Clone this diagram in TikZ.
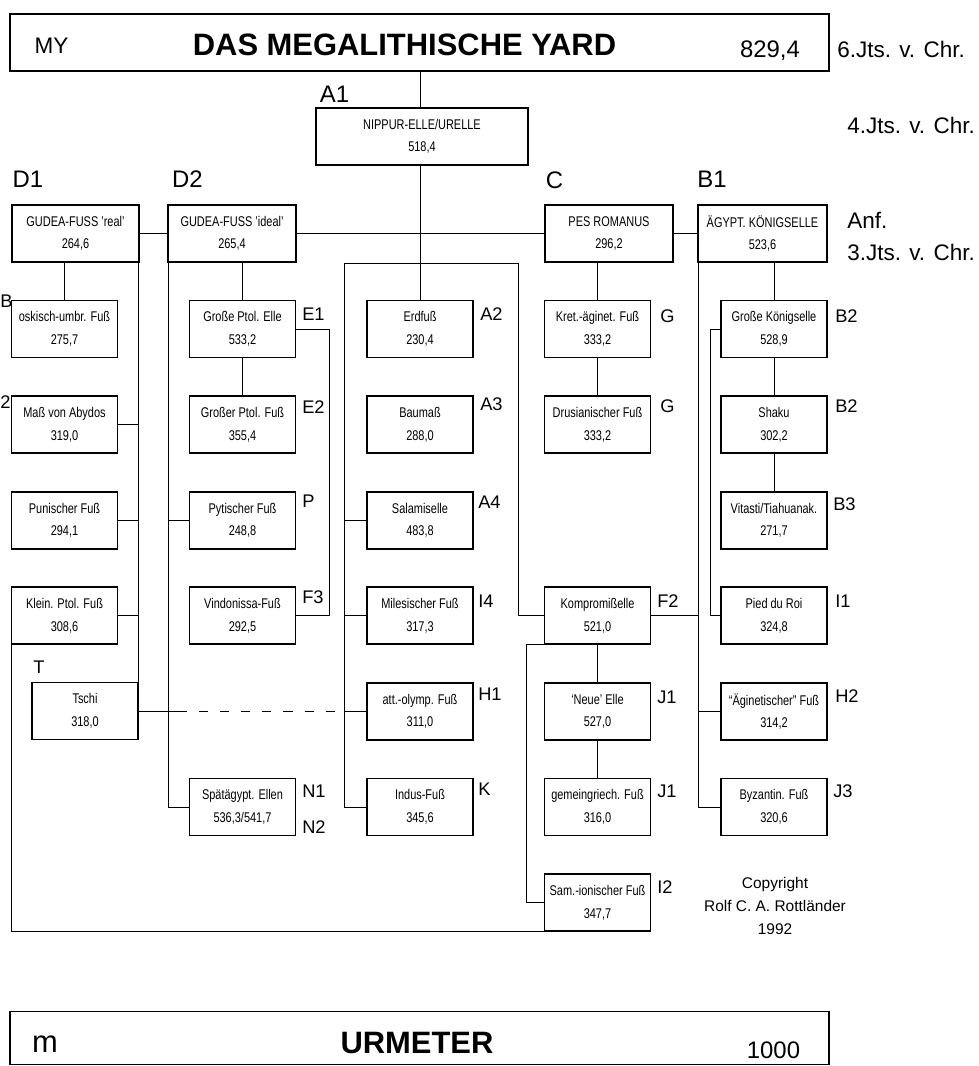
\documentclass[tikz,border=0pt]{standalone}
\usepackage{fontspec}
\setmainfont{Liberation Sans}
\newfontfamily\cond[FakeStretch=0.78]{Liberation Sans}
\usetikzlibrary{positioning}

\begin{document}
\begin{tikzpicture}[
  x=0.25mm,y=-0.25mm,
  node distance=9.65mm,
  mbox/.style={draw,line width=1.2pt,outer sep=0pt,inner sep=1pt,align=center,
    minimum width=26.5mm,minimum height=14.25mm,font=\cond\fontsize{10}{16}\selectfont},
  wbox/.style={mbox,minimum width=32mm},
  ln/.style={line width=0.7pt},
  tag/.style={inner sep=0pt,anchor=base west,font=\fontsize{13}{13}\selectfont},
  head/.style={inner sep=0pt,anchor=base,font=\fontsize{17}{17}\selectfont},
  era/.style={inner sep=0pt,anchor=base west,font=\fontsize{16}{16}\selectfont},
  big/.style={inner sep=0pt,anchor=base,font=\bfseries\fontsize{22}{22}\selectfont}]
\useasboundingbox (0,0) rectangle (978,1066);

% top and bottom bars
\node[mbox,minimum width=204.75mm] (my) at (419.5,42.5) {};
\node[head,font=\fontsize{16}{16}\selectfont] (myA) at (51.5,53) {MY};
\node[big] (myT) at (404.5,55) {DAS MEGALITHISCHE YARD};
\node[head] (myV) at (770,57) {829,4};
\node[mbox,minimum width=204.75mm,minimum height=13.25mm] (um) at (419.5,1038) {};
\node[head,font=\fontsize{22}{22}\selectfont] (umA) at (45,1052) {m};
\node[big] (umT) at (417,1053) {URMETER};
\node[head] (umV) at (773.5,1058) {1000};

\node[era] (e6) at (837,57) {6.Jts. v. Chr.};
\node[era] (e4) at (847,133) {4.Jts. v. Chr.};
\node[era] (eA) at (847,228) {Anf.};
\node[era] (e3) at (847,260) {3.Jts. v. Chr.};

% first row
\node[mbox,minimum width=53mm] (nip) at (422,136.5) {NIPPUR-ELLE/URELLE\\518,4};
\node[wbox,minimum width=31.75mm] (gudR) at (75.5,233.5) {GUDEA-FUSS ’real’\\264,6};
\node[wbox] (gudI) at (232,233.5) {GUDEA-FUSS ’ideal’\\265,4};
\node[wbox] (pes) at (609,233.5) {PES ROMANUS\\296,2};
\node[wbox,minimum width=32.25mm] (aeg) at (762.5,233.5) {ÄGYPT. KÖNIGSELLE\\523,6};
\node[head] (hA1) at (334.5,102) {A1};
\node[head] (hD1) at (28,187) {D1};
\node[head] (hD2) at (187.5,187) {D2};
\node[head] (hC) at (554.5,188) {C};
\node[head] (hB1) at (712,187) {B1};

% column 1
\node[mbox] (osk) at (64.5,329) {oskisch-umbr. Fuß\\275,7};
\node[mbox,below=of osk] (aby) {Maß von Abydos\\319,0};
\node[mbox,below=of aby] (pun) {Punischer Fuß\\294,1};
\node[mbox,below=of pun] (kle) {Klein. Ptol. Fuß\\308,6};
\node[mbox] (tsc) at (85,711) {Tschi\\318,0};
\node[tag] (tB) at (0,307) {B};
\node[tag] (t2) at (0,408) {2};
\node[tag] (tT) at (33,673) {T};

% column 2
\node[mbox] (ptE) at (242.5,329) {Große Ptol. Elle\\533,2};
\node[mbox,below=of ptE] (ptF) {Großer Ptol. Fuß\\355,4};
\node[mbox,below=of ptF] (pyt) {Pytischer Fuß\\248,8};
\node[mbox,below=of pyt] (vin) {Vindonissa-Fuß\\292,5};
\node[mbox,below=33.55mm of vin] (spa) {Spätägypt. Ellen\\536,3/541,7};
\node[tag] (tE1) at (302,320) {E1};
\node[tag] (tE2) at (302,413) {E2};
\node[tag] (tP) at (302,507) {P};
\node[tag] (tF3) at (302,603) {F3};
\node[tag] (tN1) at (302,797) {N1};
\node[tag] (tN2) at (302,833) {N2};

% column 3
\node[mbox] (erd) at (420,329) {Erdfuß\\230,4};
\node[mbox,below=of erd] (bau) {Baumaß\\288,0};
\node[mbox,below=of bau] (sal) {Salamiselle\\483,8};
\node[mbox,below=of sal] (mil) {Milesischer Fuß\\317,3};
\node[mbox,below=of mil] (att) {att.-olymp. Fuß\\311,0};
\node[mbox,below=of att] (ind) {Indus-Fuß\\345,6};
\node[tag] (tA2) at (480,320) {A2};
\node[tag] (tA3) at (480,410) {A3};
\node[tag] (tA4) at (478,508) {A4};
\node[tag] (tI4) at (478,607) {I4};
\node[tag] (tH1) at (478,700) {H1};
\node[tag] (tK) at (478,795) {K};

% column 4
\node[mbox] (kre) at (597.5,329) {Kret.-äginet. Fuß\\333,2};
\node[mbox,below=of kre] (dru) {Drusianischer Fuß\\333,2};
\node[mbox,below=33.55mm of dru] (kom) {Kompromißelle\\521,0};
\node[mbox,below=of kom] (neu) {‘Neue’ Elle\\527,0};
\node[mbox,below=of neu] (gem) {gemeingriech. Fuß\\316,0};
\node[mbox,below=of gem] (sam) {Sam.-ionischer Fuß\\347,7};
\node[tag] (tG1) at (660,322) {G};
\node[tag] (tG2) at (660,412) {G};
\node[tag] (tF2) at (657,607) {F2};
\node[tag] (tJ1) at (657,703) {J1};
\node[tag] (tJ1b) at (657,797) {J1};
\node[tag] (tI2) at (657,893) {I2};

% column 5
\node[mbox] (gk) at (774,329) {Große Königselle\\528,9};
\node[mbox,below=of gk] (sha) {Shaku\\302,2};
\node[mbox,below=of sha] (vit) {Vitasti/Tiahuanak.\\271,7};
\node[mbox,below=of vit] (pie) {Pied du Roi\\324,8};
\node[mbox,below=of pie] (aen) {“Äginetischer” Fuß\\314,2};
\node[mbox,below=of aen] (byz) {Byzantin. Fuß\\320,6};
\node[tag] (tB2) at (835,322) {B2};
\node[tag] (tB2b) at (835,412) {B2};
\node[tag] (tB3) at (833,510) {B3};
\node[tag] (tI1) at (835,607) {I1};
\node[tag] (tH2) at (835,702) {H2};
\node[tag] (tJ3) at (833,797) {J3};

\node[align=center,font=\fontsize{11}{16.5}\selectfont] (copy) at (775,906) {Copyright\\Rolf C. A. Rottländer\\1992};

% connections
\coordinate (brL) at (344.5,263);
\coordinate (brR) at (518,263);
\coordinate (dashA) at (178,711);
\coordinate (dashB) at (336,711);
\draw[ln] (my.south -| erd.north) -- (nip.north -| erd.north);
\draw[ln] (nip.south -| erd.north) -- (erd.north);
\draw[ln] (gudR) -- (gudI); \draw[ln] (gudI) -- (pes); \draw[ln] (pes) -- (aeg);
\draw[ln] (osk.north) -- (osk.north |- gudR.south);
\draw[ln] (tsc.north east) -- (tsc.north east |- gudR.south);
\foreach \n in {aby,pun,kle} \draw[ln] (\n.east) -- (\n.east -| tsc.east);
\draw[ln] (kle.south west) -- (kle.south west |- sam.south) -- (sam.south west);
\draw[ln] (gudI.south west) |- (spa.west);
\draw[ln] (pyt.west) -- (pyt.west -| gudI.west);
\draw[ln] (ptE.north) -- (ptE.north |- gudI.south);
\draw[ln] (ptE) -- (ptF);
\draw[ln] (ptE.east) -- ++(34,0) |- (vin.east);
\draw[ln] (tsc.east) -- (dashA);
\draw[ln,dash pattern=on 6.5pt off 8.5pt] (dashA) -- (dashB);
\draw[ln] (ind.west) -| (brL) -- (brR) |- (kom.west);
\foreach \n in {sal,mil,att} \draw[ln] (\n.west) -- (\n.west -| brL);
\draw[ln] (kre.north) -- (kre.north |- pes.south);
\draw[ln] (kre) -- (dru);
\draw[ln] (kom) -- (neu); \draw[ln] (neu) -- (gem);
\draw[ln] (kom.south west) -- ++(-18,0) |- (sam.west);
\draw[ln] (kom.east) -- (kom.east -| aeg.west);
\draw[ln] (aeg.south west) |- (byz.west);
\draw[ln] (aen.west) -- (aen.west -| aeg.west);
\draw[ln] (gk.north) -- (gk.north |- aeg.south);
\draw[ln] (gk) -- (sha); \draw[ln] (sha) -- (vit);
\draw[ln] (gk.west) -- ++(-11,0) |- (pie.west);
\end{tikzpicture}
\end{document}
